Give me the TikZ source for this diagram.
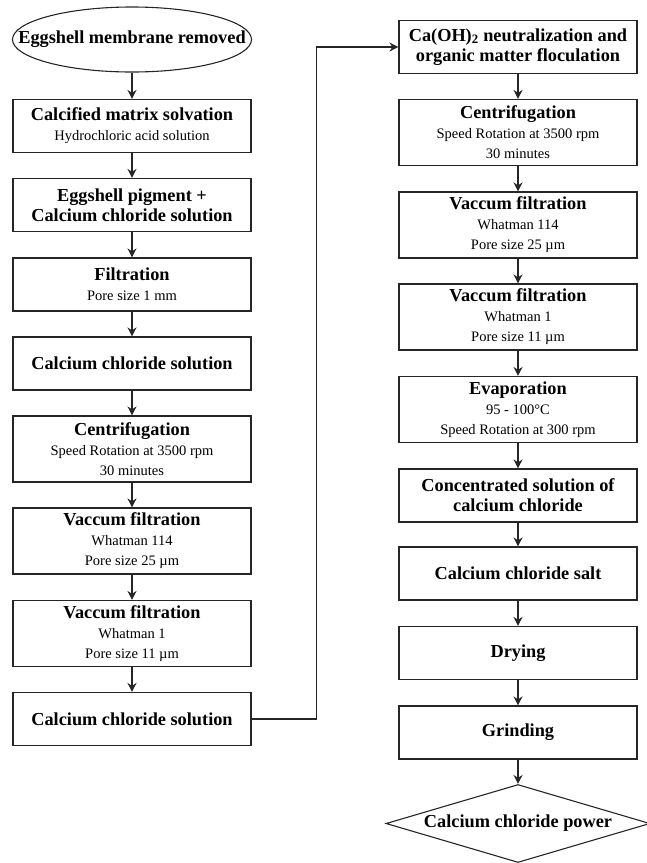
\documentclass[tikz,border=0pt]{standalone}
\usepackage{fontspec}
\setmainfont{Liberation Serif}
\usetikzlibrary{arrows.meta,shapes.geometric}
\tikzset{
  stage/.style={draw=black!85,line width=1.1pt,rectangle,minimum width=238pt,minimum height=53pt,
    text width=230pt,inner sep=2pt,align=flush center,font=\fontsize{18.3}{20}\selectfont\bfseries},
  tallstage/.style={stage,minimum height=66pt},
  start/.style={draw=black!85,line width=1.1pt,ellipse,minimum width=239pt,minimum height=65pt,
    inner xsep=-40pt,inner ysep=0pt,font=\fontsize{18.3}{20}\selectfont\bfseries},
  finish/.style={draw=black!85,line width=1.1pt,diamond,minimum width=264pt,minimum height=78pt,
    inner xsep=-90pt,inner ysep=-5pt,font=\fontsize{18.3}{20}\selectfont\bfseries},
  flow/.style={draw=black!85,line width=1.1pt,-{Stealth[length=9pt,width=9pt]}}
}
\newcommand{\detail}[1]{{\normalfont\fontsize{14.5}{20}\selectfont #1}}
\begin{document}
\begin{tikzpicture}[x=1pt,y=1pt]
      \useasboundingbox (0,0) rectangle (646,-863);
      \draw
        (132,-39.5) node[start] (0){Eggshell membrane removed}
        (132,-126) node[stage] (1){Calcified matrix solvation\\\detail{Hydrochloric acid solution}}
        (132,-205) node[stage] (2){Eggshell pigment +\\Calcium chloride solution}
        (132,-284.5) node[stage] (3){Filtration\\\detail{Pore size 1 mm}}
        (132,-363.5) node[stage] (4){Calcium chloride solution}
        (132,-449) node[tallstage] (5){Centrifugation\\\detail{Speed Rotation at 3500 rpm}\\\detail{30 minutes}}
        (132,-541) node[tallstage] (6){Vaccum filtration\\\detail{Whatman 114}\\\detail{Pore size 25 µm}}
        (132,-633.5) node[tallstage] (7){Vaccum filtration\\\detail{Whatman 1}\\\detail{Pore size 11 µm}}
        (132,-719) node[stage] (8){Calcium chloride solution}
        (518,-47) node[stage] (9){Ca(OH)\textsubscript{2} neutralization and\\organic matter floculation}
        (518,-132.5) node[tallstage] (10){Centrifugation\\\detail{Speed Rotation at 3500 rpm}\\\detail{30 minutes}}
        (518,-225) node[tallstage] (11){Vaccum filtration\\\detail{Whatman 114}\\\detail{Pore size 25 µm}}
        (518,-317) node[tallstage] (12){Vaccum filtration\\\detail{Whatman 1}\\\detail{Pore size 11 µm}}
        (518,-409.5) node[tallstage] (13){Evaporation\\\detail{95 - 100°C}\\\detail{Speed Rotation at 300 rpm}}
        (518,-495.5) node[stage] (14){Concentrated solution of\\calcium chloride}
        (518,-573.5) node[stage] (15){Calcium chloride salt}
        (518,-653) node[stage] (16){Drying}
        (518,-732.5) node[stage] (17){Grinding}
        (518,-823.5) node[finish] (18){Calcium chloride power};
      \begin{scope}[flow]
        \draw (0) to (1);
        \draw (1) to (2);
        \draw (2) to (3);
        \draw (3) to (4);
        \draw (4) to (5);
        \draw (5) to (6);
        \draw (6) to (7);
        \draw (7) to (8);
        \draw (8.east) -- ++(65,0) |- (9.west);
        \draw (9) to (10);
        \draw (10) to (11);
        \draw (11) to (12);
        \draw (12) to (13);
        \draw (13) to (14);
        \draw (14) to (15);
        \draw (15) to (16);
        \draw (16) to (17);
        \draw (17) to (18);
      \end{scope}
    \end{tikzpicture}
\end{document}
